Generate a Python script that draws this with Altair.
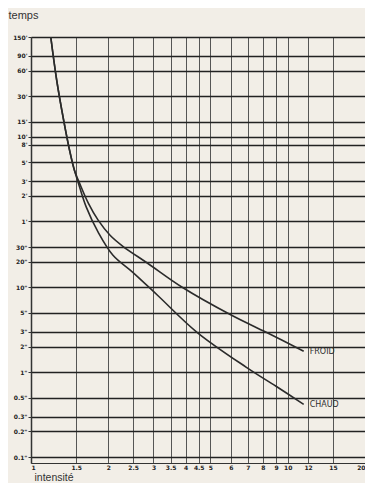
import json
import altair as alt
import pandas as pd

# axis ticks
x_ticks = [1, 1.5, 2, 2.5, 3, 3.5, 4, 4.5, 5, 6, 7, 8, 9, 10, 12, 15, 20]
x_labels = ["1", "1.5", "2", "2.5", "3", "3.5", "4", "4.5", "5", "6", "7", "8", "9", "10", "12", "15", "20"]

# time ticks in seconds
y_ticks = [9000, 5400, 3600, 1800, 900, 600, 480, 300, 180, 120, 60,
           30, 20, 10, 5, 3, 2, 1, 0.5, 0.3, 0.2, 0.1]
y_labels = ["150'", "90'", "60'", "30'", "15'", "10'", "8'", "5'", "3'", "2'", "1'",
            '30"', '20"', '10"', '5"', '3"', '2"', '1"', '0.5"', '0.3"', '0.2"', '0.1"']

# curves (intensity multiple, time in seconds)
froid_I = [1.194, 1.259, 1.340, 1.413, 1.477, 1.557, 1.672, 1.826, 2.032, 2.280, 2.846, 3.881, 6.045, 8.245, 11.54]
froid_t = [9000, 2796, 943, 417, 242, 161, 98.7, 62.2, 41.3, 30.6, 19.3, 10.05, 4.70, 2.96, 1.77]
chaud_I = [1.194, 1.259, 1.340, 1.413, 1.464, 1.530, 1.642, 1.826, 2.086, 2.492, 3.110, 4.433, 6.903, 9.007, 11.54]
chaud_t = [9000, 2796, 943, 417, 262.5, 170, 88.6, 44.9, 24.0, 15.1, 8.10, 2.96, 1.143, 0.683, 0.418]

rows = []
for i, t in zip(froid_I, froid_t):
    rows.append({"I": i, "t": t, "serie": "FROID"})
for i, t in zip(chaud_I, chaud_t):
    rows.append({"I": i, "t": t, "serie": "CHAUD"})
df = pd.DataFrame(rows)

ends = pd.DataFrame([
    {"I": froid_I[-1], "t": froid_t[-1], "serie": "FROID"},
    {"I": chaud_I[-1], "t": chaud_t[-1], "serie": "CHAUD"},
])


def label_expr(vals, labs):
    expr = '""'
    for v, l in reversed(list(zip(vals, labs))):
        expr = f"datum.value == {v} ? {json.dumps(l)} : ({expr})"
    return expr


xs = alt.Scale(type="log", domain=[1, 20], nice=False)
ys = alt.Scale(type="log", domain=[0.0850, 9000], nice=False)

x_axis = alt.Axis(values=x_ticks, labelExpr=label_expr(x_ticks, x_labels),
                  grid=True, gridColor="#444", gridWidth=0.9, gridOpacity=1,
                  ticks=False, labelFontSize=6, labelPadding=1, labelColor="#222",
                  labelFont="DejaVu Sans", labelFontWeight="bold", labelFlush=True,
                  domainColor="#333", domainWidth=1.2,
                  title="intensité", titleFont="Liberation Sans", titleFontSize=10.5,
                  titleFontWeight="normal", titleColor="#333", titleAlign="left",
                  titleAnchor="start", titleX=3, titleY=17, titleBaseline="alphabetic")
y_axis = alt.Axis(values=y_ticks, labelExpr=label_expr(y_ticks, y_labels),
                  grid=True, gridColor="#222", gridWidth=1.4, gridOpacity=1,
                  ticks=True, tickSize=3, tickColor="#333",
                  labelFontSize=6, labelPadding=1, labelColor="#222",
                  labelFont="DejaVu Sans", labelFontWeight="bold", labelFlush=False,
                  domainColor="#333", domainWidth=1.5,
                  title="temps", titleFont="Liberation Sans", titleFontSize=11,
                  titleFontWeight="normal", titleColor="#333", titleAngle=0,
                  titleAlign="left", titleAnchor="start", titleX=-23, titleY=-19,
                  titleBaseline="alphabetic")

base = alt.Chart(df)
lines = base.mark_line(color="#2b2b2b", strokeWidth=1.6, interpolate="catmull-rom").encode(
    x=alt.X("I:Q", scale=xs, axis=x_axis),
    y=alt.Y("t:Q", scale=ys, axis=y_axis),
    detail="serie:N",
)
texts = alt.Chart(ends).mark_text(align="left", dx=6, dy=1, fontSize=8,
                                  font="DejaVu Sans", color="#2f2f2f").encode(
    x=alt.X("I:Q", scale=xs), y=alt.Y("t:Q", scale=ys), text="serie:N")

chart = (lines + texts).properties(
    width=334, height=426,
    autosize=alt.AutoSizeParams(type="none"),
    padding={"left": 23, "top": 29, "right": 0, "bottom": 20},
    background="#f2eee7",
).configure_view(stroke=None)

chart.save("out.html", embed_options={"renderer": "svg", "actions": False})
